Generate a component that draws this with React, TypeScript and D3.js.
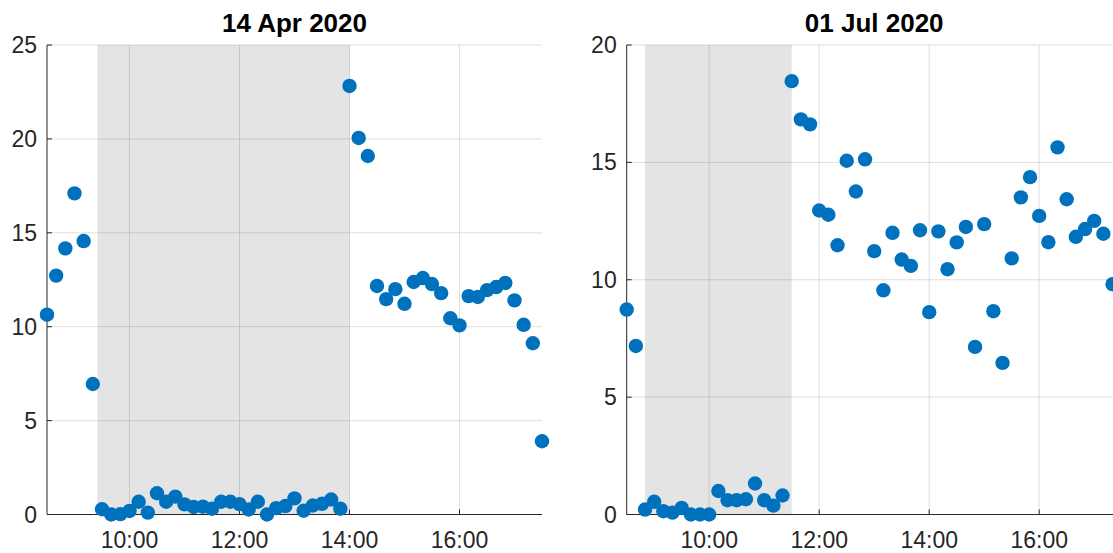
import React from "react";
import * as d3 from "d3";

const times: string[] = [
  "08:30","08:40","08:50","09:00","09:10","09:20","09:30","09:40","09:50",
  "10:00","10:10","10:20","10:30","10:40","10:50","11:00","11:10","11:20","11:30","11:40","11:50",
  "12:00","12:10","12:20","12:30","12:40","12:50","13:00","13:10","13:20","13:30","13:40","13:50",
  "14:00","14:10","14:20","14:30","14:40","14:50","15:00","15:10","15:20","15:30","15:40","15:50",
  "16:00","16:10","16:20","16:30","16:40","16:50","17:00","17:10","17:20","17:30",
];

const aprValues: number[] = [
  10.64, 12.72, 14.17, 17.1, 14.56, 6.95, 0.28, 0.0, 0.02,
  0.19, 0.68, 0.1, 1.13, 0.68, 0.95, 0.54, 0.4, 0.42, 0.31, 0.68, 0.68,
  0.55, 0.27, 0.68, 0.0, 0.34, 0.45, 0.86, 0.2, 0.48, 0.57, 0.8, 0.31,
  22.82, 20.05, 19.09, 12.17, 11.47, 12.0, 11.22, 12.38, 12.59, 12.27, 11.79, 10.45,
  10.07, 11.63, 11.58, 11.95, 12.11, 12.33, 11.4, 10.1, 9.12, 3.9,
];

const julValues: number[] = [
  8.73, 7.18, 0.21, 0.54, 0.14, 0.08, 0.28, 0.0, 0.0,
  0.0, 1.0, 0.61, 0.61, 0.65, 1.32, 0.61, 0.38, 0.81, 18.46, 16.83, 16.62,
  12.95, 12.77, 11.47, 15.07, 13.76, 15.13, 11.22, 9.55, 12.0, 10.86, 10.59, 12.11,
  8.62, 12.06, 10.45, 11.59, 12.25, 7.14, 12.37, 8.66, 6.46, 10.91, 13.51, 14.37,
  12.72, 11.6, 15.64, 13.43, 11.83, 12.16, 12.51, 11.96, 9.81, 4.05,
];

const xTickLabels: string[] = ["10:00", "12:00", "14:00", "16:00"];
const aprYTicks: number[] = [0, 5, 10, 15, 20, 25];
const julYTicks: number[] = [0, 5, 10, 15, 20];

const panels = [
  { title: "14 Apr 2020", values: aprValues, yMax: 25, yTicks: aprYTicks, shade: ["09:25", "14:00"], left: 47 },
  { title: "01 Jul 2020", values: julValues, yMax: 20, yTicks: julYTicks, shade: ["08:50", "11:30"], left: 626.7 },
];

const parse = (s: string) => {
  const [h, m] = s.split(":").map(Number);
  return new Date(2020, 0, 1, h, m);
};

const W = 495;
const TOP = 45;
const BOTTOM = 514.5;
const FONT = "'Liberation Sans', Arial, Helvetica, sans-serif";
const AXIS = "#262626";
const BLUE = "#0072BD";

function Panel({ p }: { p: (typeof panels)[number] }) {
  const x = d3.scaleTime().domain([parse("08:30"), parse("17:30")]).range([p.left, p.left + W]);
  const y = d3.scaleLinear().domain([0, p.yMax]).range([BOTTOM, TOP]);
  const x0 = p.left;
  const x1 = p.left + W;
  return (
    <g>
      <rect
        x={x(parse(p.shade[0]))}
        y={TOP}
        width={x(parse(p.shade[1])) - x(parse(p.shade[0]))}
        height={BOTTOM - TOP}
        fill="#e4e4e4"
      />
      {p.yTicks.map((t) => (
        <line key={"gy" + t} x1={x0} x2={x1} y1={y(t)} y2={y(t)} stroke={AXIS} strokeOpacity={0.15} />
      ))}
      {xTickLabels.map((t) => (
        <line key={"gx" + t} x1={x(parse(t))} x2={x(parse(t))} y1={TOP} y2={BOTTOM} stroke={AXIS} strokeOpacity={0.15} />
      ))}
      <line x1={x0} x2={x1} y1={BOTTOM} y2={BOTTOM} stroke={AXIS} strokeWidth={1} />
      <line x1={x0} x2={x0} y1={TOP} y2={BOTTOM} stroke={AXIS} strokeWidth={1} />
      {p.yTicks.map((t) => (
        <g key={"ty" + t}>
          <line x1={x0} x2={x0 + 5} y1={y(t)} y2={y(t)} stroke={AXIS} />
          <text x={x0 - 10} y={y(t)} dy="0.35em" textAnchor="end" fontSize={23} fill={AXIS} fontFamily={FONT}>
            {t}
          </text>
        </g>
      ))}
      {xTickLabels.map((t) => (
        <g key={"tx" + t}>
          <line x1={x(parse(t))} x2={x(parse(t))} y1={BOTTOM} y2={BOTTOM - 5} stroke={AXIS} />
          <text x={x(parse(t))} y={548} textAnchor="middle" fontSize={23} fill={AXIS} fontFamily={FONT}>
            {t}
          </text>
        </g>
      ))}
      {p.values.map((v, i) => (
        <circle key={i} cx={x(parse(times[i]))} cy={y(v)} r={7.2} fill={BLUE} />
      ))}
      <text x={(x0 + x1) / 2} y={32} textAnchor="middle" fontSize={26} fontWeight="bold" fill="#000" fontFamily={FONT}>
        {p.title}
      </text>
    </g>
  );
}

export default function App() {
  return (
    <svg
      width={1113}
      height={553}
      style={{ position: "absolute", left: 0, top: 0, background: "#fff" }}
    >
      <rect width={1113} height={553} fill="#fff" />
      {panels.map((p) => (
        <Panel key={p.title} p={p} />
      ))}
    </svg>
  );
}
